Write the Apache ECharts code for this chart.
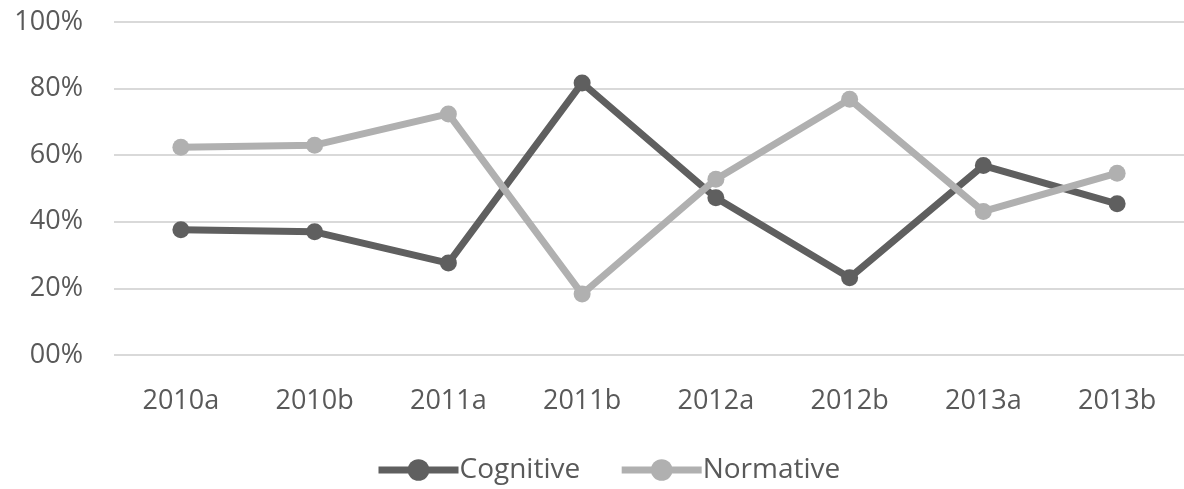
<!DOCTYPE html>
<html>
<head>
<meta charset="utf-8">
<script src="https://cdn.jsdelivr.net/npm/echarts@6/dist/echarts.min.js"></script>
<style>
  html, body { margin: 0; padding: 0; background: #ffffff; }
  #chart { width: 1184px; height: 489px; }
</style>
</head>
<body>
<div id="chart"></div>
<script>
// Survey periods (two waves per year)
const categories = ['2010a', '2010b', '2011a', '2011b', '2012a', '2012b', '2013a', '2013b'];

// Share of responses per period, in percent
const cognitive = [37.6, 37.0, 27.6, 81.7, 47.2, 23.2, 56.9, 45.4];
const normative = [62.4, 63.0, 72.4, 18.3, 52.8, 76.8, 43.1, 54.6];

// Value-axis tick labels, one per 20% step
const yTickLabels = ['00%', '20%', '40%', '60%', '80%', '100%'];

const textColor = '#595959';
const fontFamily = '"Open Sans", "Noto Sans", sans-serif';

const chart = echarts.init(document.getElementById('chart'), null, { renderer: 'canvas' });

function lineSeries(name, data, color) {
  return {
    name: name,
    type: 'line',
    data: data,
    symbol: 'circle',
    symbolSize: 17,
    lineStyle: { color: color, width: 7 },
    itemStyle: { color: color },
    emphasis: { disabled: true },
    animation: false
  };
}

chart.setOption({
  backgroundColor: '#ffffff',
  grid: { left: 114, right: -6, top: 22, bottom: 134 },
  legend: {
    bottom: 0,
    left: 370,
    itemWidth: 80,
    itemHeight: 27,
    itemGap: 38,
    lineStyle: { width: 7 },
    textStyle: { color: textColor, fontSize: 28, fontFamily: fontFamily, padding: [0, 0, 0, -4] },
    data: ['Cognitive', 'Normative']
  },
  xAxis: {
    type: 'category',
    data: categories,
    boundaryGap: true,
    axisLine: { show: false },
    axisTick: { show: false },
    axisLabel: { color: textColor, fontSize: 27, fontFamily: fontFamily, margin: 33 }
  },
  yAxis: {
    type: 'value',
    min: 0,
    max: 100,
    interval: 20,
    axisLine: { show: false },
    axisTick: { show: false },
    splitLine: { lineStyle: { color: '#d9d9d9', width: 2 } },
    axisLabel: {
      color: textColor,
      fontSize: 27,
      fontFamily: fontFamily,
      margin: 31,
      formatter: function (v) { return yTickLabels[Math.round(v / 20)]; }
    }
  },
  series: [
    lineSeries('Cognitive', cognitive, '#5f5f5f'),
    lineSeries('Normative', normative, '#b0b0b0')
  ]
});
</script>
</body>
</html>
